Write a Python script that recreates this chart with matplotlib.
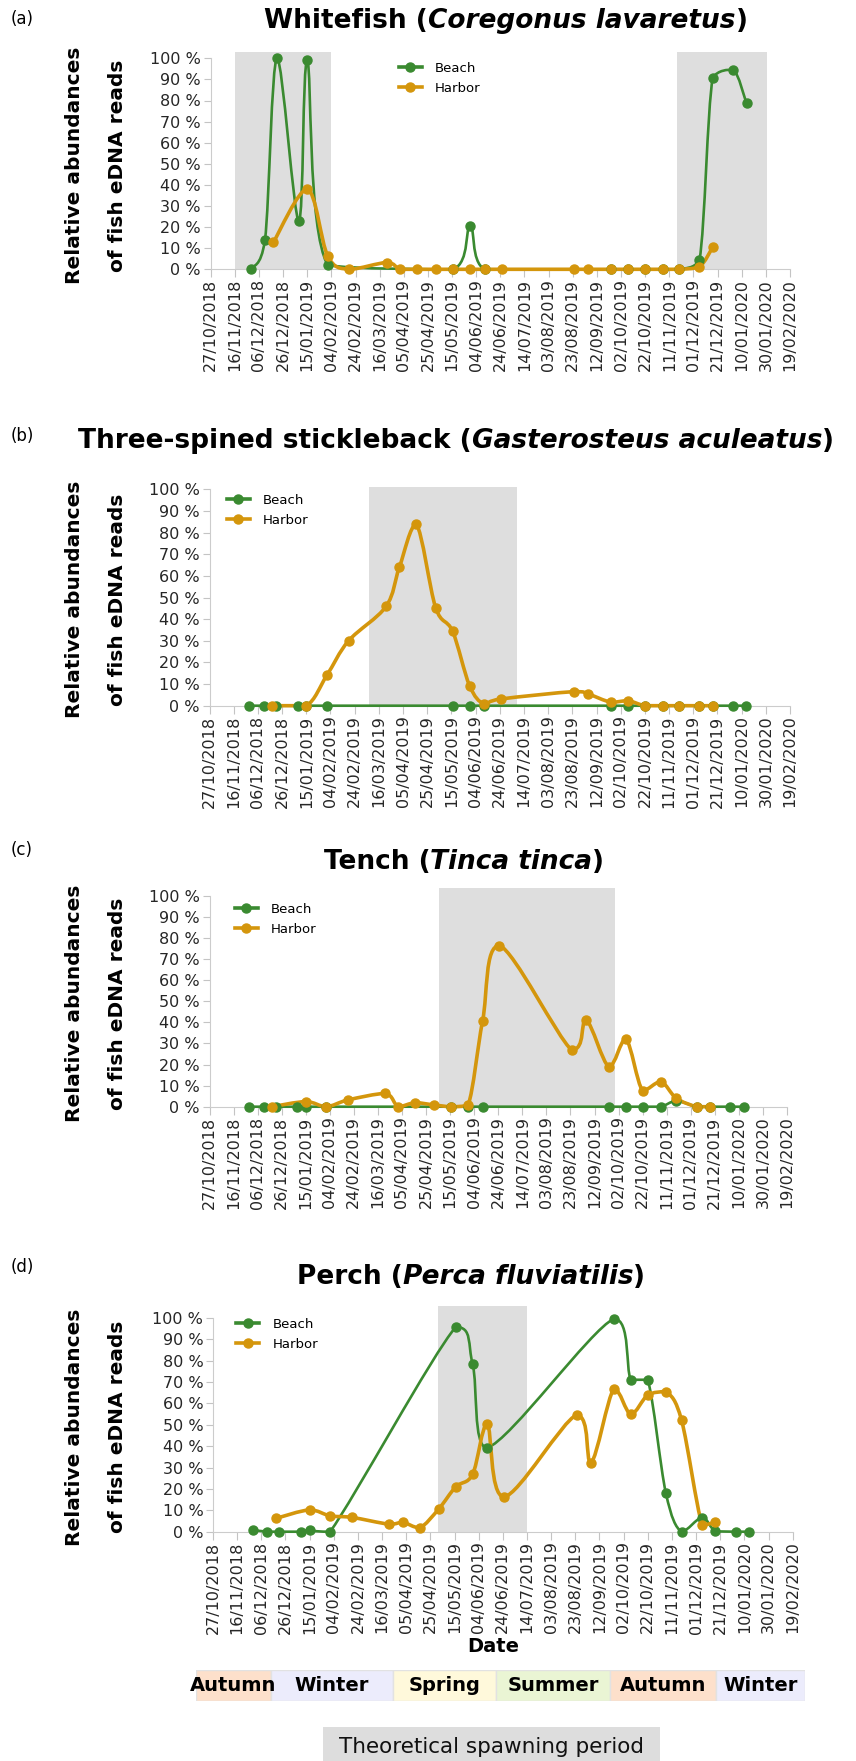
import numpy as np
import pandas as pd
import matplotlib
matplotlib.use('Agg')
import matplotlib.pyplot as plt
import matplotlib.dates as mdates
from matplotlib.path import Path
from matplotlib.patches import PathPatch, Rectangle
from matplotlib.lines import Line2D

plt.rcParams['font.family'] = ['DejaVu Sans']

# sampling dates
beach_dates = ['2018-11-29', '2018-12-11', '2018-12-21', '2019-01-08', '2019-01-15', '2019-02-01',
               '2019-05-16', '2019-05-30', '2019-06-11', '2019-09-24', '2019-10-08', '2019-10-22',
               '2019-11-06', '2019-11-19', '2019-12-06', '2019-12-17', '2020-01-03', '2020-01-14']
harbor_dates = ['2018-12-18', '2019-01-15', '2019-02-01', '2019-02-19', '2019-03-22', '2019-04-02',
                '2019-04-16', '2019-05-02', '2019-05-16', '2019-05-30', '2019-06-11', '2019-06-25',
                '2019-08-24', '2019-09-05', '2019-09-24', '2019-10-08', '2019-10-22', '2019-11-06',
                '2019-11-19', '2019-12-06', '2019-12-17']

# relative abundances (%)
whitefish_beach = [0, 14, 100, 23, 99, 2, 0, 20.7, 0, 0, 0, 0, 0, 0, 4.4, 90.8, 94.6, 78.6]
whitefish_harbor = [12.9, 38, 6.3, 0, 3.2, 0, 0, 0, 0, 0, 0, 0, 0, 0, 0, 0, 0, 0, 0, 1.3, 10.5]
stickleback_beach = [0] * 18
stickleback_harbor = [0, 0, 14, 30, 45.9, 64, 83.8, 45.3, 34.4, 9.3, 0.8, 3.1, 6.5, 5.4, 1.6, 2.3,
                      0, 0, 0, 0, 0]
tench_beach = [0, 0, 0, 0, 0, 0, 0, 0, 0, 0, 0, 0, 0, 2.7, 0, 0, 0, 0]
tench_harbor = [0, 2.4, 0, 3.2, 6.3, 0, 1.9, 0.8, 0, 0.8, 40.8, 76.5, 26.9, 41.1, 19, 32.1, 7.6,
                11.9, 4, 0, 0]
perch_beach = [0.8, 0, 0, 0, 0.8, 0, 95.8, 78.3, 39.2, 99.7, 71.1, 71.1, 18, 0, 6.6, 0.3, 0, 0]
perch_harbor = [6.2, 10.2, 7.4, 6.7, 3.5, 4.4, 1.8, 10.7, 21, 26.9, 50.4, 16.3, 54.6, 32.3, 66.9,
                55, 63.9, 65.5, 52.1, 3.2, 4.4]

# theoretical spawning periods
whitefish_spawn = [('2018-11-16', '2019-02-04'), ('2019-11-17', '2020-01-31')]
stickleback_spawn = [('2019-03-08', '2019-07-08')]
tench_spawn = [('2019-05-06', '2019-09-29')]
perch_spawn = [('2019-05-01', '2019-07-14')]

tick_labels = ['27/10/2018', '16/11/2018', '06/12/2018', '26/12/2018', '15/01/2019', '04/02/2019',
               '24/02/2019', '16/03/2019', '05/04/2019', '25/04/2019', '15/05/2019', '04/06/2019',
               '24/06/2019', '14/07/2019', '03/08/2019', '23/08/2019', '12/09/2019', '02/10/2019',
               '22/10/2019', '11/11/2019', '01/12/2019', '21/12/2019', '10/01/2020', '30/01/2020',
               '19/02/2020']

seasons = ['Autumn', 'Winter', 'Spring', 'Summer', 'Autumn', 'Winter']
season_edges = ['2018-10-13', '2018-12-14', '2019-03-25', '2019-06-18', '2019-09-21',
                '2019-12-17', '2020-02-29']
season_colors = ['#fde0cb', '#ececfc', '#fff9db', '#eaf5d4', '#fde0cb', '#ececfc']

GREEN = '#3a8a30'
ORANGE = '#d4960c'
W, H = 856, 1761


def num(d):
    return mdates.date2num(pd.to_datetime(d))


def fx(px):
    return px / W


def fy(py):
    return 1 - py / H


def smooth(ax, x, y, color, lw):
    """smoothed line: catmull-rom bezier, control points kept inside each segment (no big overshoot)"""
    x = np.asarray(x, float)
    y = np.asarray(y, float)
    n = len(x)
    verts = [(x[0], y[0])]
    codes = [Path.MOVETO]
    for i in range(n - 1):
        a = max(i - 1, 0)
        b = min(i + 2, n - 1)
        lo, hi = min(y[i], y[i + 1]), max(y[i], y[i + 1])
        c1x = np.clip(x[i] + (x[i + 1] - x[a]) / 6, x[i], x[i + 1])
        c1y = np.clip(y[i] + (y[i + 1] - y[a]) / 6, lo, hi)
        c2x = np.clip(x[i + 1] - (x[b] - x[i]) / 6, x[i], x[i + 1])
        c2y = np.clip(y[i + 1] - (y[b] - y[i]) / 6, lo, hi)
        verts += [(c1x, c1y), (c2x, c2y), (x[i + 1], y[i + 1])]
        codes += [Path.CURVE4] * 3
    ax.add_patch(PathPatch(Path(verts, codes), fill=False, edgecolor=color, lw=lw,
                           clip_on=False, zorder=3, capstyle='round', joinstyle='round'))
    ax.plot(x, y, 'o', color=color, ms=6.5, clip_on=False, zorder=4)


fig = plt.figure(figsize=(W / 100, H / 100), dpi=100)
tick_pos = num(pd.to_datetime(tick_labels, format='%d/%m/%Y'))

panels = [
    # label, common, latin, beach, harbor, spawn, layout
    ('(a)', 'Whitefish', 'Coregonus lavaretus', whitefish_beach, whitefish_harbor, whitefish_spawn,
     dict(l=210.7, r=790, y0=269.3, y100=58.3, top=103, lab=19, ttl=(506, 21), leg=(398.5, 62))),
    ('(b)', 'Three-spined stickleback', 'Gasterosteus aculeatus', stickleback_beach,
     stickleback_harbor, stickleback_spawn,
     dict(l=209.5, r=790, y0=705.7, y100=489.3, top=101.2, lab=436, ttl=(456, 441), leg=(226.7, 494))),
    ('(c)', 'Tench', 'Tinca tinca', tench_beach, tench_harbor, tench_spawn,
     dict(l=209.5, r=787, y0=1106.7, y100=896, top=103.8, lab=850, ttl=(464, 862), leg=(234.7, 903))),
    ('(d)', 'Perch', 'Perca fluviatilis', perch_beach, perch_harbor, perch_spawn,
     dict(l=213, r=792.7, y0=1531.7, y100=1318, top=105.6, lab=1267, ttl=(471, 1277), leg=(236, 1318))),
]

renderer = fig.canvas.get_renderer()
for lab, common, latin, beach, harbor, spawn, L in panels:
    h_px = (L['y0'] - L['y100']) * L['top'] / 100
    ax = fig.add_axes([fx(L['l']), fy(L['y0']), (L['r'] - L['l']) / W, h_px / H])
    ax.set_xlim(tick_pos[0], tick_pos[-1])
    ax.set_ylim(0, L['top'])
    for s, e in spawn:
        ax.axvspan(num(s), num(e), color='#dedede', lw=0, zorder=0)
    for side in ['top', 'right']:
        ax.spines[side].set_visible(False)
    ax.spines['left'].set_bounds(0, 100)
    ax.spines['left'].set_color('#cccccc')
    ax.spines['bottom'].set_color('#cccccc')
    ax.set_yticks(np.arange(0, 101, 10))
    ax.set_yticklabels(['%d %%' % v for v in range(0, 101, 10)])
    ax.set_xticks(tick_pos)
    ax.set_xticklabels(tick_labels, rotation=90)
    ax.tick_params(axis='y', length=5, pad=2, color='#c4c4c4', labelsize=11.5, labelcolor='#262626')
    ax.tick_params(axis='x', length=5.5, pad=1.5, color='#c4c4c4', labelsize=11.5, labelcolor='#262626')

    smooth(ax, num(beach_dates), beach, GREEN, 1.9)
    smooth(ax, num(harbor_dates), harbor, ORANGE, 2.6)

    handles = [Line2D([], [], color=GREEN, lw=2.6, marker='o', ms=6.5),
               Line2D([], [], color=ORANGE, lw=2.6, marker='o', ms=6.5)]
    ax.legend(handles, ['Beach', 'Harbor'], loc='upper left',
              bbox_to_anchor=(fx(L['leg'][0]), fy(L['leg'][1])), bbox_transform=fig.transFigure,
              frameon=False, fontsize=9.5, handlelength=1.75, handletextpad=1.0,
              labelspacing=0.5, borderpad=0, borderaxespad=0)

    # y label, two bold lines
    yc = (L['y0'] + L['y100']) / 2 + 2
    fig.text(fx(80), fy(yc), 'Relative abundances', rotation=90, rotation_mode='anchor',
             ha='center', va='baseline', fontsize=14.5, fontweight='bold')
    fig.text(fx(123), fy(yc), 'of fish eDNA reads', rotation=90, rotation_mode='anchor',
             ha='center', va='baseline', fontsize=14.5, fontweight='bold')

    # panel letter
    fig.text(fx(11), fy(L['lab']), lab, fontsize=12, va='center', ha='left')

    # title: common name bold, latin name bold italic
    pieces = [(common + ' (', 'normal'), (latin, 'italic'), (')', 'normal')]
    texts = [fig.text(0, fy(L['ttl'][1]), s, fontsize=19, fontweight='bold', style=st,
                      va='center', ha='left') for s, st in pieces]
    widths = [t.get_window_extent(renderer).width for t in texts]
    x = L['ttl'][0] - sum(widths) / 2
    for t, w in zip(texts, widths):
        t.set_x(fx(x))
        x += w

fig.text(fx(493), fy(1646), 'Date', fontsize=14, fontweight='bold', ha='center', va='center')

# season bar
sax = fig.add_axes([fx(196), fy(1701), (805 - 196) / W, 31 / H])
edges = num(season_edges)
sax.set_xlim(edges[0], edges[-1])
sax.set_ylim(0, 1)
sax.axis('off')
for name, c, s, e in zip(seasons, season_colors, edges[:-1], edges[1:]):
    sax.axvspan(s, e, facecolor=c, edgecolor='#e2e2e2', lw=1)
    sax.text((s + e) / 2, 0.5, name, ha='center', va='center', fontsize=14, fontweight='bold')

fig.patches.append(Rectangle((fx(323.3), 0), (660 - 323.3) / W, (H - 1726.7) / H,
                             transform=fig.transFigure, facecolor='#dddddd', edgecolor='none'))
fig.text(fx(491.5), fy(1753), 'Theoretical spawning period', fontsize=15.5, ha='center',
         va='baseline', color='#111111')

fig.savefig('out.png', dpi=100)
